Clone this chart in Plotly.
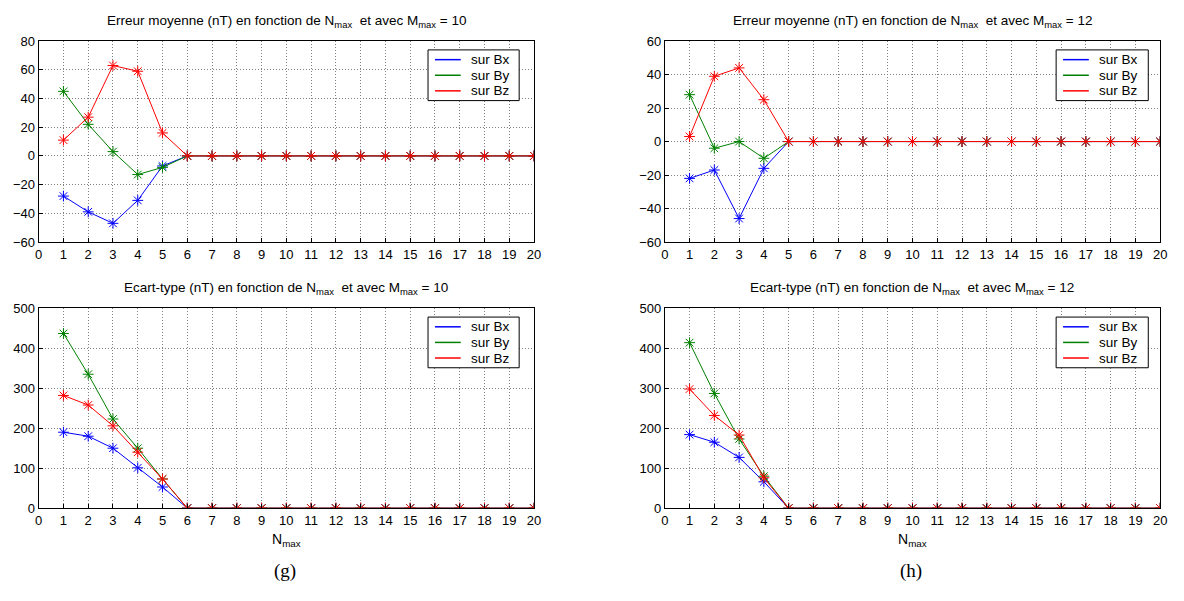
import plotly.graph_objects as go

nmax = list(range(1, 21))

# Mean error, Mmax = 10
mean10_bx = [-28, -39, -47, -31, -7] + [0] * 15
mean10_by = [45, 22, 3, -13, -8] + [0] * 15
mean10_bz = [11, 27, 63, 59, 16] + [0] * 15

# Mean error, Mmax = 12
mean12_bx = [-22, -17, -46, -16] + [0] * 16
mean12_by = [28, -4, 0, -10] + [0] * 16
mean12_bz = [3, 39, 44, 25] + [0] * 16

# Std dev, Mmax = 10
std10_bx = [190, 180, 150, 101, 53] + [0] * 15
std10_by = [437, 335, 223, 150, 73] + [0] * 15
std10_bz = [282, 258, 206, 140, 73] + [0] * 15

# Std dev, Mmax = 12
std12_bx = [184, 165, 127, 66] + [0] * 16
std12_by = [414, 287, 173, 80] + [0] * 16
std12_bz = [298, 232, 183, 76] + [0] * 16

series_names = ["sur Bx", "sur By", "sur Bz"]
colors = ["#0000FF", "#008000", "#FF0000"]

panels = [
    dict(data=[mean10_bx, mean10_by, mean10_bz], yr=[-60, 80], dt=20,
         title="Erreur moyenne (nT) en fonction de N<sub>max</sub>  et avec M<sub>max</sub> = 10"),
    dict(data=[mean12_bx, mean12_by, mean12_bz], yr=[-60, 60], dt=20,
         title="Erreur moyenne (nT) en fonction de N<sub>max</sub>  et avec M<sub>max</sub> = 12"),
    dict(data=[std10_bx, std10_by, std10_bz], yr=[0, 500], dt=100,
         title="Ecart-type (nT) en fonction de N<sub>max</sub>  et avec M<sub>max</sub> = 10"),
    dict(data=[std12_bx, std12_by, std12_bz], yr=[0, 500], dt=100,
         title="Ecart-type (nT) en fonction de N<sub>max</sub>  et avec M<sub>max</sub> = 12"),
]

W, H = 1184, 601
# pixel boxes: (left, right, top, bottom)
boxes = [(35, 535, 35, 241), (667, 1167, 35, 241),
         (35, 535, 309, 514), (667, 1167, 309, 514)]
# legend boxes: (left, right, top, bottom)
legend_boxes = [(428, 520, 44, 96), (1062, 1155, 44, 96),
                (428, 520, 318, 370), (1062, 1155, 318, 370)]

fig = go.Figure()
font = "Liberation Sans, Arial, sans-serif"
layout = dict(width=W, height=H, margin=dict(l=0, r=0, t=0, b=0),
              paper_bgcolor="white", plot_bgcolor="white", showlegend=False,
              font=dict(family=font, size=13, color="black"), annotations=[], shapes=[])


def px(x):
    return x / W


def py(y):
    return 1 - y / H


for i, p in enumerate(panels):
    k = "" if i == 0 else str(i + 1)
    xa, ya = "x" + k, "y" + k
    for vals, name, c in zip(p["data"], series_names, colors):
        fig.add_trace(go.Scatter(x=nmax, y=vals, mode="lines+markers", name=name,
                                 line=dict(color=c, width=1),
                                 marker=dict(symbol="asterisk-open", size=9,
                                             line=dict(color=c, width=1), color=c),
                                 xaxis=xa, yaxis=ya))
    l, r, t, b = boxes[i]
    axcommon = dict(showline=True, linecolor="black", linewidth=1, mirror=True,
                    showgrid=True, gridcolor="#808080", griddash="1px,2px", gridwidth=1,
                    zeroline=False, ticks="inside", ticklen=4, tickcolor="black",
                    tickfont=dict(size=13, family=font))
    layout["xaxis" + k] = dict(domain=[px(l), px(r)], range=[0, 20], dtick=1, tick0=0,
                               anchor=ya, **axcommon)
    layout["yaxis" + k] = dict(domain=[py(b), py(t)], range=p["yr"], dtick=p["dt"],
                               anchor=xa, **axcommon)
    layout["annotations"].append(dict(text=p["title"], x=px((l + r) / 2), y=py(t - 20),
                                      xref="paper", yref="paper", showarrow=False,
                                      xanchor="center", yanchor="middle",
                                      font=dict(size=13.5, family=font)))
    # legend box
    ll, lr, lt, lb = legend_boxes[i]
    layout["shapes"].append(dict(type="rect", xref="paper", yref="paper",
                                 x0=px(ll), x1=px(lr), y0=py(lb), y1=py(lt),
                                 line=dict(color="black", width=1), fillcolor="white",
                                 layer="above"))
    for j, (name, c) in enumerate(zip(series_names, colors)):
        yy = lt + 10 + 16 * j
        layout["shapes"].append(dict(type="line", xref="paper", yref="paper",
                                     x0=px(ll + 7), x1=px(ll + 33), y0=py(yy), y1=py(yy),
                                     line=dict(color=c, width=1.5), layer="above"))
        layout["annotations"].append(dict(text=name, x=px(ll + 41), y=py(yy),
                                          xref="paper", yref="paper", showarrow=False,
                                          xanchor="left", yanchor="middle",
                                          font=dict(size=13.5, family=font)))

for cx in [(35 + 535) / 2, (667 + 1167) / 2]:
    layout["annotations"].append(dict(text="N<sub>max</sub>", x=px(cx), y=py(547),
                                      xref="paper", yref="paper", showarrow=False,
                                      xanchor="center", yanchor="middle",
                                      font=dict(size=14, family=font)))
for cx, lab in [(284, "(g)"), (916, "(h)")]:
    layout["annotations"].append(dict(text=lab, x=px(cx), y=py(578),
                                      xref="paper", yref="paper", showarrow=False,
                                      xanchor="center", yanchor="middle",
                                      font=dict(size=19, family="Liberation Serif, Times New Roman, serif")))

fig.update_layout(**layout)
fig.write_html("out.html", config={"displayModeBar": False},
               post_script="document.body.style.margin='0px';document.body.style.overflow='hidden';")
